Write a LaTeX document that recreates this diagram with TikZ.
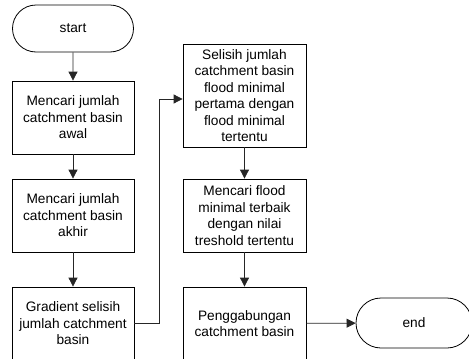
\documentclass[tikz,border=0pt]{standalone}
\usepackage{fontspec}
\setmainfont{Liberation Sans}
\usetikzlibrary{shapes.misc,arrows.meta}

\begin{document}
\begin{tikzpicture}[x=1pt,y=-1pt,
	procbox/.style={draw=black, line width=0.8pt, rectangle, inner sep=0pt, minimum width=122pt, align=center, font=\fontsize{13.7}{16.5}\selectfont},
	termbox/.style={draw=black, line width=0.8pt, rounded rectangle, inner sep=0pt, align=center, font=\fontsize{13.7}{16.5}\selectfont},
	flow/.style={draw=black!85, line width=0.8pt, -{Triangle[length=9pt,width=9pt]}}]
	% Parameters
	\def\colleft{73}
	\def\colright{244.5}
	\def\rowlow{323.5}
	
	\clip (0,0) rectangle (469,359);
	
	%terminals
	\node[termbox, minimum width=121pt, minimum height=47pt] (start) at (\colleft,28.5) {start};
	\node[termbox, minimum width=116pt, minimum height=50pt] (end) at (414,323) {end};
	
	%left column
	\node[procbox, minimum height=73pt] (awal) at (\colleft,117.5) {Mencari jumlah\\catchment basin\\awal};
	\node[procbox, minimum height=73pt] (akhir) at (\colleft,215.5) {Mencari jumlah\\catchment basin\\akhir};
	\node[procbox, minimum height=73pt] (gradien) at (\colleft,\rowlow) {Gradient selisih\\jumlah catchment\\basin};
	
	%right column
	\node[procbox, minimum width=123pt, minimum height=103pt] (selisih) at (\colright,95.5) {Selisih jumlah\\catchment basin\\flood minimal\\pertama dengan\\flood minimal\\tertentu};
	\node[procbox, minimum width=123pt, minimum height=73pt] (terbaik) at (\colright,215.5) {Mencari flood\\minimal terbaik\\dengan nilai\\treshold tertentu};
	\node[procbox, minimum width=123pt, minimum height=73pt] (gabung) at (\colright,\rowlow) {Penggabungan\\catchment basin};
	
	\coordinate (belok) at (159,\rowlow);
	
	%flows
	\draw[flow] (start) -- (awal);
	\draw[flow] (awal) -- (akhir);
	\draw[flow] (akhir) -- (gradien);
	\draw[flow] (gradien.east) -- (belok) |- (selisih.west |- 0,99);
	\draw[flow] (selisih) -- (terbaik);
	\draw[flow] (terbaik) -- (gabung);
	\draw[flow] (gabung) -- (end);
\end{tikzpicture}
\end{document}
